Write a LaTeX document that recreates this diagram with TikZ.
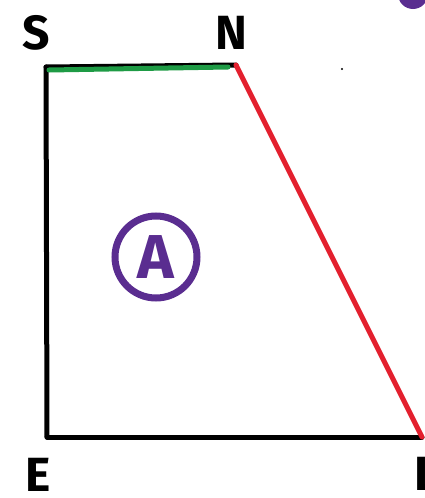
\documentclass[tikz,border=0pt]{standalone}
\usepackage{fontspec}
\setmainfont{Fira Sans}
\definecolor{skred}{HTML}{E3202E}
\definecolor{skgreen}{HTML}{1E9B45}
\definecolor{skpurple}{HTML}{5A2D90}
\usetikzlibrary{positioning,calc}
\begin{document}
\begin{tikzpicture}[x=1pt,y=-1pt,
  edge/.style={line width=5pt,line cap=round},
  corner/.style={font=\fontsize{48}{48}\selectfont\bfseries,inner sep=0pt},
  zone/.style={draw=skpurple,line width=7pt,circle,minimum size=82pt,inner sep=0pt,
    text=skpurple,font=\fontsize{62}{62}\selectfont\bfseries}]
\useasboundingbox (0,0) rectangle (425,498);
% corners of the plot
\coordinate (s) at (46,67);
\coordinate (n) at (236,65);
\coordinate (l) at (422,437);
\coordinate (e) at (47,437);
% outline
\draw[edge] (s) -- (e);
\draw[edge] (e) -- (l);
\draw[edge] (s) -- (n);
\draw[edge,skgreen] ($(s)+(3,3)$) -- ($(n)+(-8,2)$);
\draw[edge,skred] (n) -- (l);
% labels
\node[corner] (slab) at (36,33) {S};
\node[corner] (nlab) at (231,33) {N};
\node[corner] (elab) at (38,475) {E};
\node[corner,anchor=west] (llab) at (414,474) {L};
\node[zone] (area) at (156,257) {A};
% marks near the top edge
\fill[skpurple] (413,-6) circle (15);
\fill (342,69) circle (1.2);
\end{tikzpicture}
\end{document}
